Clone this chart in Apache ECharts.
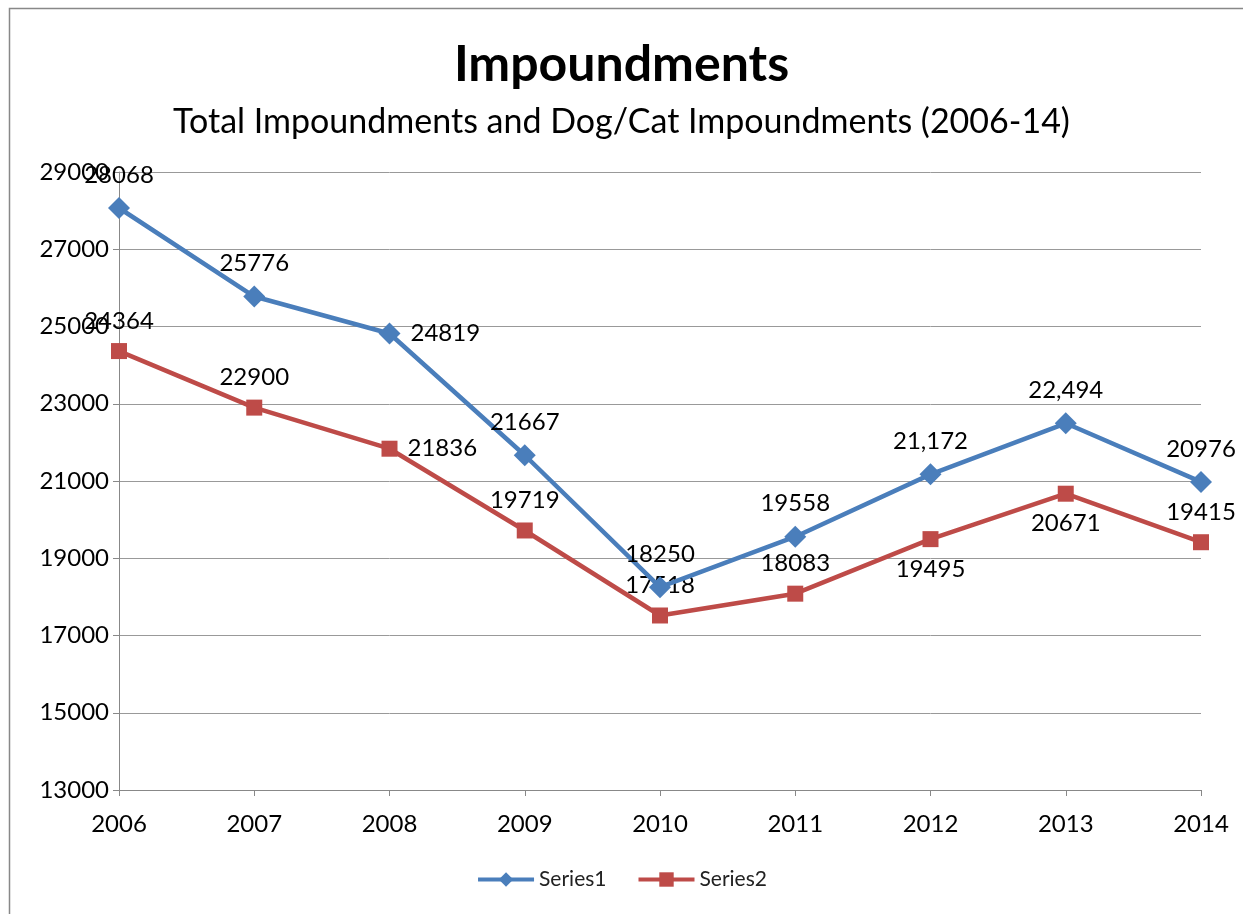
<!DOCTYPE html>
<html lang="en">
  <head>
    <meta charset="UTF-8" />
    <title>Impoundments</title>
    <script src="https://cdn.jsdelivr.net/npm/echarts@6/dist/echarts.min.js"></script>
    <style>
      html, body { margin: 0; padding: 0; background: #fff; }
      #main { width: 1243px; height: 914px; }
    </style>
  </head>
  <body>
    <div id="main"></div>
    <script>
      // data
      var years = ["2006", "2007", "2008", "2009", "2010", "2011", "2012", "2013", "2014"];
      var series1 = [28068, 25776, 24819, 21667, 18250, 19558, 21172, 22494, 20976];
      var series2 = [24364, 22900, 21836, 19719, 17518, 18083, 19495, 20671, 19415];
      var series1Text = ["28068", "25776", "24819", "21667", "18250", "19558", "21,172", "22,494", "20976"];
      var series2Text = ["24364", "22900", "21836", "19719", "17518", "18083", "19495", "20671", "19415"];
      var yTicks = [13000, 15000, 17000, 19000, 21000, 23000, 25000, 27000, 29000];

      var font = "Lato, 'Open Sans', sans-serif";
      var pos1 = ["top", "top", "right", "top", "top", "top", "top", "top", "top"];
      var pos2 = ["top", "top", "right", "top", "top", "top", "bottom", "bottom", "top"];

      function points(values, texts, positions) {
        return values.map(function (v, i) {
          return {
            value: v,
            label: { position: positions[i], formatter: texts[i] }
          };
        });
      }

      var myChart = echarts.init(document.getElementById("main"));

      var option = {
        animation: false,
        textStyle: { fontFamily: font },
        title: [
          {
            text: "Impoundments",
            left: "center",
            top: 35,
            textStyle: { fontSize: 50, fontWeight: "bold", color: "#000", fontFamily: font }
          },
          {
            text: "Total Impoundments and Dog/Cat Impoundments (2006-14)",
            left: "center",
            top: 100,
            textStyle: { fontSize: 34, fontWeight: "normal", color: "#000", fontFamily: font }
          }
        ],
        graphic: [
          {
            type: "rect",
            shape: { x: 9.5, y: 8.5, width: 1240, height: 910 },
            style: { fill: null, stroke: "#888", lineWidth: 1.5 },
            silent: true
          }
        ],
        legend: {
          bottom: 19,
          left: "center",
          itemWidth: 56,
          itemHeight: 18,
          itemGap: 30,
          lineStyle: { width: 4 },
          textStyle: { fontSize: 21, color: "#222", fontFamily: font },
          data: ["Series1", "Series2"]
        },
        grid: { left: 119, right: 42, top: 172, bottom: 124 },
        xAxis: {
          type: "category",
          boundaryGap: false,
          data: years,
          axisLine: { lineStyle: { color: "#888", width: 1 } },
          axisTick: { show: true, length: 6, lineStyle: { color: "#888" } },
          axisLabel: { fontSize: 24, color: "#000", margin: 22 },
          splitLine: { show: false }
        },
        yAxis: {
          type: "value",
          min: yTicks[0],
          max: yTicks[yTicks.length - 1],
          interval: 2000,
          axisLine: { show: true, lineStyle: { color: "#888", width: 1 } },
          axisTick: { show: true, length: 6, lineStyle: { color: "#888" } },
          axisLabel: {
            fontSize: 24,
            color: "#000",
            margin: 10,
            formatter: function (v) { return String(v); }
          },
          splitLine: { lineStyle: { color: "#999", width: 1 } }
        },
        series: [
          {
            name: "Series1",
            type: "line",
            data: points(series1, series1Text, pos1),
            symbol: "diamond",
            symbolSize: 22,
            itemStyle: { color: "#4a7ebb" },
            lineStyle: { width: 4.5, color: "#4a7ebb" },
            label: { show: true, fontSize: 24, color: "#000", distance: 10 },
            z: 3
          },
          {
            name: "Series2",
            type: "line",
            data: points(series2, series2Text, pos2),
            symbol: "rect",
            symbolSize: 16,
            itemStyle: { color: "#be4b48" },
            lineStyle: { width: 4.5, color: "#be4b48" },
            label: { show: true, fontSize: 24, color: "#000", distance: 10 },
            z: 2
          }
        ]
      };

      myChart.setOption(option);
    </script>
  </body>
</html>
